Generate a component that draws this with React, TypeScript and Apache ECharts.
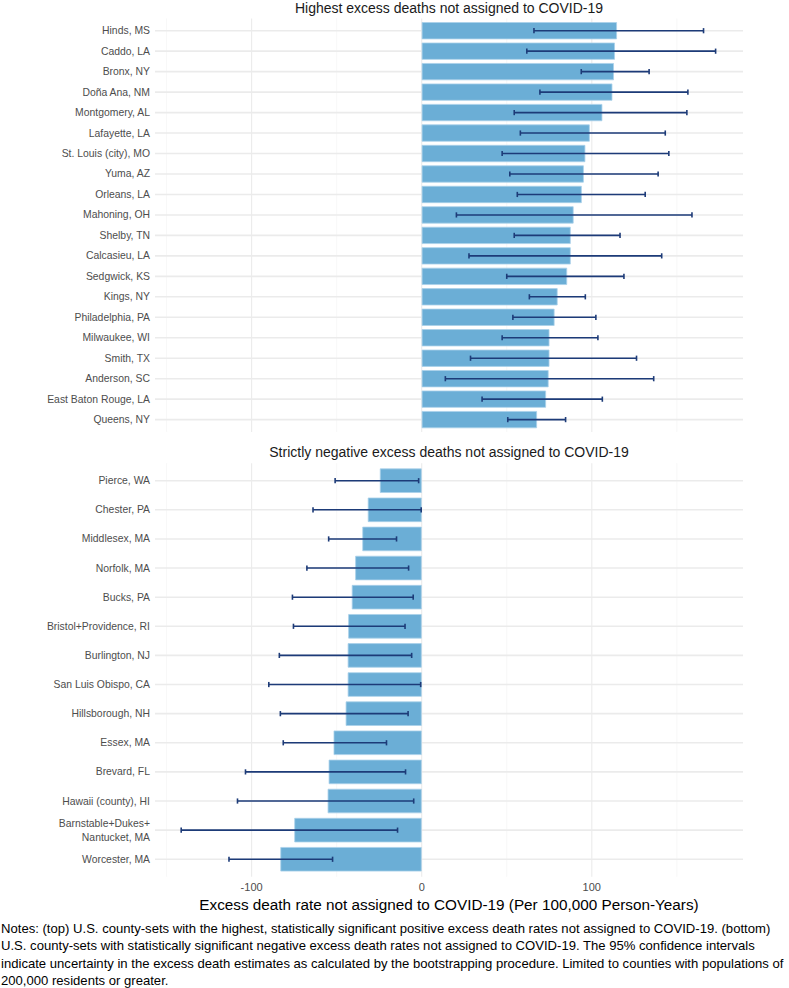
import React, { useEffect, useRef } from "react";
import * as echarts from "echarts";

// ---------- Data ----------
const topCounties = [
  "Hinds, MS", "Caddo, LA", "Bronx, NY", "Doña Ana, NM", "Montgomery, AL",
  "Lafayette, LA", "St. Louis (city), MO", "Yuma, AZ", "Orleans, LA", "Mahoning, OH",
  "Shelby, TN", "Calcasieu, LA", "Sedgwick, KS", "Kings, NY", "Philadelphia, PA",
  "Milwaukee, WI", "Smith, TX", "Anderson, SC", "East Baton Rouge, LA", "Queens, NY",
];
const topValues = [
  114.8, 113.6, 113.0, 112.1, 106.2, 98.8, 96.2, 95.3, 94.1, 89.3,
  87.6, 87.6, 85.5, 79.9, 78.1, 75.1, 75.1, 74.6, 73.1, 67.8,
];
const topLower = [
  66.0, 61.8, 93.8, 69.5, 54.4, 58.0, 47.3, 51.8, 56.2, 20.4,
  54.4, 27.8, 50.0, 63.3, 53.6, 47.3, 28.7, 13.9, 35.5, 50.6,
];
const topUpper = [
  165.7, 172.8, 133.7, 156.5, 155.9, 143.2, 145.3, 139.0, 131.4, 158.9,
  116.6, 141.1, 118.9, 96.2, 102.4, 103.6, 126.3, 136.4, 106.2, 84.6,
];

const bottomCounties = [
  "Pierce, WA", "Chester, PA", "Middlesex, MA", "Norfolk, MA", "Bucks, PA",
  "Bristol+Providence, RI", "Burlington, NJ", "San Luis Obispo, CA", "Hillsborough, NH",
  "Essex, MA", "Brevard, FL", "Hawaii (county), HI", "Barnstable+Dukes+\nNantucket, MA",
  "Worcester, MA",
];
const bottomValues = [
  -24.6, -31.7, -34.9, -39.1, -41.1, -43.2, -43.5, -43.5, -44.7, -51.8, -54.7, -55.3, -74.9, -83.1,
];
const bottomLower = [
  -50.9, -63.9, -54.7, -67.5, -76.0, -75.4, -83.7, -89.9, -83.1, -81.4, -103.6, -108.3, -141.4, -113.3,
];
const bottomUpper = [
  -1.8, -0.3, -14.8, -7.7, -5.0, -9.8, -5.9, -0.6, -8.0, -20.7, -9.5, -4.7, -14.2, -52.4,
];

const xTickLabels = [-100, 0, 100];
const gridLineValues = [-150, -100, -50, 0, 50, 100, 150];

const topTitle = "Highest excess deaths not assigned to COVID-19";
const bottomTitle = "Strictly negative excess deaths not assigned to COVID-19";
const xAxisTitle = "Excess death rate not assigned to COVID-19 (Per 100,000 Person-Years)";
const noteLines = [
  "Notes: (top) U.S. county-sets with the highest, statistically significant positive excess death rates not assigned to COVID-19. (bottom)",
  "U.S. county-sets with statistically significant negative excess death rates not assigned to COVID-19. The 95% confidence intervals",
  "indicate uncertainty in the excess death estimates as calculated by the bootstrapping procedure. Limited to counties with populations of",
  "200,000 residents or greater.",
];

// ---------- Styling ----------
const FONT = "'Liberation Sans', Arial, Helvetica, sans-serif";
const BAR_COLOR = "#6baed6";
const ERR_COLOR = "#1d3b78";
const X_MIN = -156.8;
const X_MAX = 188.9;
const PANEL_LEFT = 155;
const PANEL_RIGHT = 743;
const PANEL_CENTER = (PANEL_LEFT + PANEL_RIGHT) / 2;

function buildPanelSeries(gridIdx: number, cats: string[], vals: number[], lo: number[], hi: number[]) {
  const n = cats.length;
  return [
    {
      type: "custom",
      xAxisIndex: gridIdx,
      yAxisIndex: gridIdx,
      z: 1,
      silent: true,
      encode: { x: 0, y: 1 },
      data: gridLineValues.map((v) => [v, 0, xTickLabels.includes(v) ? 1 : 0]),
      renderItem: (params: any, api: any) => {
        const cs = params.coordSys;
        const x = api.coord([api.value(0), 0])[0];
        const ext = (cs.height / n) * 0.1;
        const major = api.value(2) === 1;
        return {
          type: "line",
          shape: { x1: x, y1: cs.y - ext, x2: x, y2: cs.y + cs.height + ext },
          style: { stroke: major ? "#ebebeb" : "#f3f3f3", lineWidth: major ? 1.1 : 0.7 },
        };
      },
    },
    {
      type: "custom",
      xAxisIndex: gridIdx,
      yAxisIndex: gridIdx,
      z: 1,
      silent: true,
      encode: { x: 0, y: 1 },
      data: cats.map((_, i) => [0, i]),
      renderItem: (params: any, api: any) => {
        const cs = params.coordSys;
        const y = api.coord([0, api.value(1)])[1];
        return {
          type: "line",
          shape: { x1: cs.x, y1: y, x2: cs.x + cs.width, y2: y },
          style: { stroke: "#ebebeb", lineWidth: 1.6 },
        };
      },
    },
    {
      type: "bar",
      xAxisIndex: gridIdx,
      yAxisIndex: gridIdx,
      z: 2,
      barWidth: "84%",
      data: vals,
      itemStyle: { color: BAR_COLOR, borderColor: "#a9d0ea", borderWidth: 0.8 },
    },
    {
      type: "custom",
      xAxisIndex: gridIdx,
      yAxisIndex: gridIdx,
      z: 3,
      encode: { x: [1, 2], y: 0 },
      data: cats.map((_, i) => [i, lo[i], hi[i]]),
      renderItem: (params: any, api: any) => {
        const yi = api.value(0);
        const p1 = api.coord([api.value(1), yi]);
        const p2 = api.coord([api.value(2), yi]);
        const h = 2.6;
        const st = { stroke: ERR_COLOR, lineWidth: 1.6 };
        return {
          type: "group",
          children: [
            { type: "line", shape: { x1: p1[0], y1: p1[1], x2: p2[0], y2: p2[1] }, style: st },
            { type: "line", shape: { x1: p1[0], y1: p1[1] - h, x2: p1[0], y2: p1[1] + h }, style: st },
            { type: "line", shape: { x1: p2[0], y1: p2[1] - h, x2: p2[0], y2: p2[1] + h }, style: st },
          ],
        };
      },
    },
  ];
}

export default function App() {
  const ref = useRef<HTMLDivElement>(null);

  useEffect(() => {
    if (!ref.current) return;
    const chart = echarts.init(ref.current, undefined, { renderer: "svg" });

    const topBand = 20.47;
    const botBand = 29.12;
    const topGridTop = 30.7 - topBand / 2;
    const botGridTop = 480.7 - botBand / 2;

    const yAxisCommon = {
      type: "category",
      inverse: true,
      axisLine: { show: false },
      axisTick: { show: false },
      splitLine: { show: false },
      axisLabel: { color: "#4d4d4d", fontSize: 10.4, fontFamily: FONT, margin: 5, lineHeight: 14 },
    };
    const xAxisCommon = {
      type: "value",
      min: X_MIN,
      max: X_MAX,
      axisLine: { show: false },
      axisTick: { show: false },
      splitLine: { show: false },
    };

    const graphics: any[] = [
      {
        type: "text",
        x: PANEL_CENTER,
        y: 8,
        style: { text: topTitle, fill: "#1a1a1a", fontSize: 14, fontFamily: FONT, textAlign: "center", textVerticalAlign: "middle" },
      },
      {
        type: "text",
        x: PANEL_CENTER,
        y: 451.5,
        style: { text: bottomTitle, fill: "#1a1a1a", fontSize: 14, fontFamily: FONT, textAlign: "center", textVerticalAlign: "middle" },
      },
      {
        type: "text",
        x: PANEL_CENTER,
        y: 904,
        style: { text: xAxisTitle, fill: "#000", fontSize: 15.3, fontFamily: FONT, textAlign: "center", textVerticalAlign: "middle" },
      },
      ...noteLines.map((t, i) => ({
        type: "text",
        x: 1,
        y: 928 + i * 17.6,
        style: { text: t, fill: "#000", fontSize: 13.1, fontFamily: FONT, textAlign: "left", textVerticalAlign: "middle" },
      })),
    ];

    chart.setOption({
      animation: false,
      backgroundColor: "#ffffff",
      textStyle: { fontFamily: FONT },
      grid: [
        { left: PANEL_LEFT, width: PANEL_RIGHT - PANEL_LEFT, top: topGridTop, height: topBand * topCounties.length },
        { left: PANEL_LEFT, width: PANEL_RIGHT - PANEL_LEFT, top: botGridTop, height: botBand * bottomCounties.length },
      ],
      xAxis: [
        { ...xAxisCommon, gridIndex: 0, axisLabel: { show: false } },
        {
          ...xAxisCommon,
          gridIndex: 1,
          axisLabel: {
            show: true,
            customValues: xTickLabels,
            color: "#4d4d4d",
            fontSize: 11,
            fontFamily: FONT,
            margin: 8,
          },
        },
      ],
      yAxis: [
        { ...yAxisCommon, gridIndex: 0, data: topCounties },
        { ...yAxisCommon, gridIndex: 1, data: bottomCounties },
      ],
      series: [
        ...buildPanelSeries(0, topCounties, topValues, topLower, topUpper),
        ...buildPanelSeries(1, bottomCounties, bottomValues, bottomLower, bottomUpper),
      ],
      graphic: graphics,
    });

    return () => chart.dispose();
  }, []);

  return (
    <div
      ref={ref}
      style={{ position: "absolute", left: 0, top: 0, width: 789, height: 988, background: "#fff" }}
    />
  );
}
